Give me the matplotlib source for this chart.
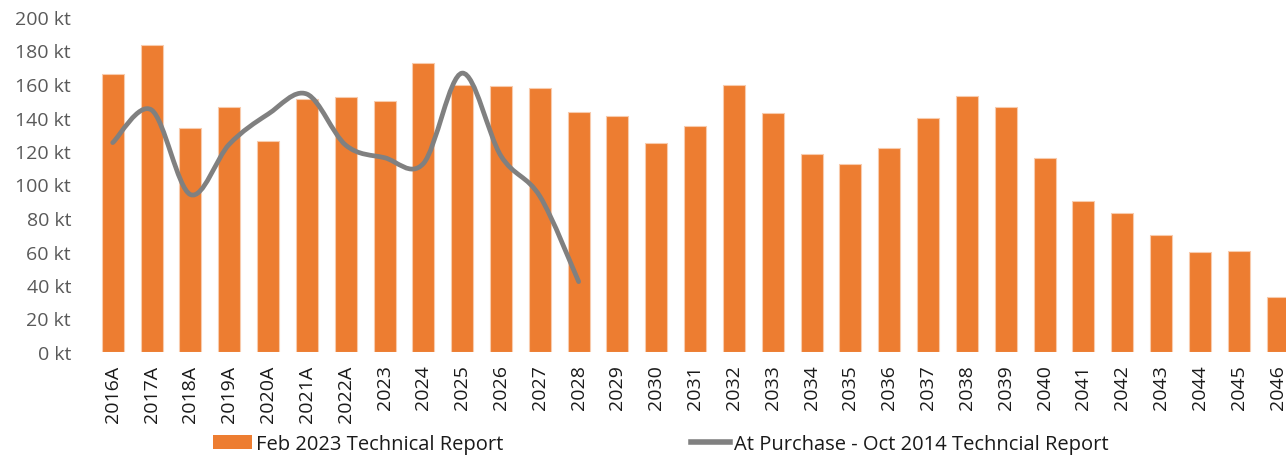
import numpy as np
import matplotlib.pyplot as plt
from matplotlib.path import Path
from matplotlib.patches import PathPatch, Patch
from matplotlib.lines import Line2D

plt.rcParams['font.family'] = ['Open Sans', 'DejaVu Sans']

years = ['2016A', '2017A', '2018A', '2019A', '2020A', '2021A', '2022A',
         '2023', '2024', '2025', '2026', '2027', '2028', '2029', '2030',
         '2031', '2032', '2033', '2034', '2035', '2036', '2037', '2038',
         '2039', '2040', '2041', '2042', '2043', '2044', '2045', '2046']
feb2023 = [166, 183, 134, 146, 126, 151, 152, 150, 172.5, 159.5, 159, 157.5,
           143, 141, 125, 135, 159.5, 142.5, 118, 112, 122, 140, 153, 146,
           116, 90, 83, 70, 60, 60.5, 33]
oct2014 = [125, 144.5, 94, 124, 142, 154, 123.5, 116, 112.5, 166.5, 117, 93, 42]

bar_color = '#ED7D31'
line_color = '#808080'

fig = plt.figure(figsize=(12.86, 4.56), dpi=100)
ax = fig.add_axes([93.3 / 1286, 103 / 456, (1297 - 93.3) / 1286, 335 / 456])

x = np.arange(len(years))
ax.bar(x, feb2023, width=0.567, color=bar_color, edgecolor='#F8CBAD', linewidth=0.8)

# smoothed line (Excel style bezier through the points)
lx = np.arange(len(oct2014), dtype=float)
ly = np.array(oct2014, dtype=float)
n = len(lx)
verts = [(lx[0], ly[0])]
codes = [Path.MOVETO]
for i in range(n - 1):
    p0 = np.array([lx[max(i - 1, 0)], ly[max(i - 1, 0)]])
    p1 = np.array([lx[i], ly[i]])
    p2 = np.array([lx[i + 1], ly[i + 1]])
    p3 = np.array([lx[min(i + 2, n - 1)], ly[min(i + 2, n - 1)]])
    c1 = p1 + (p2 - p0) / 6
    c2 = p2 - (p3 - p1) / 6
    verts += [tuple(c1), tuple(c2), tuple(p2)]
    codes += [Path.CURVE4] * 3
ax.add_patch(PathPatch(Path(verts, codes), facecolor='none', edgecolor=line_color,
                       linewidth=3.4, capstyle='round', joinstyle='round'))

ax.set_xlim(-0.5, len(years) - 0.5)
ax.set_ylim(0, 200)
ax.set_yticks(np.arange(0, 201, 20))
ax.set_yticklabels([f'{v} kt' for v in range(0, 201, 20)])
ax.set_xticks(x)
ax.set_xticklabels(years, rotation=90)
ax.tick_params(axis='y', length=0, pad=16, labelsize=14, labelcolor='#595959')
ax.tick_params(axis='x', length=0, pad=9, labelsize=14, labelcolor='#1a1a1a')
for s in ax.spines.values():
    s.set_visible(False)

handles = [Patch(facecolor=bar_color, edgecolor='none'),
           Line2D([0], [0], color=line_color, linewidth=4)]
fig.legend(handles, ['Feb 2023 Technical Report', 'At Purchase - Oct 2014 Techncial Report'],
           loc='center left', bbox_to_anchor=(195 / 1286, 11 / 456), ncol=2,
           frameon=False, fontsize=14.5, handlelength=1.95, handleheight=0.65,
           handletextpad=0.2, columnspacing=9.3, labelcolor='#1a1a1a')

fig.savefig('out.png', dpi=100)
